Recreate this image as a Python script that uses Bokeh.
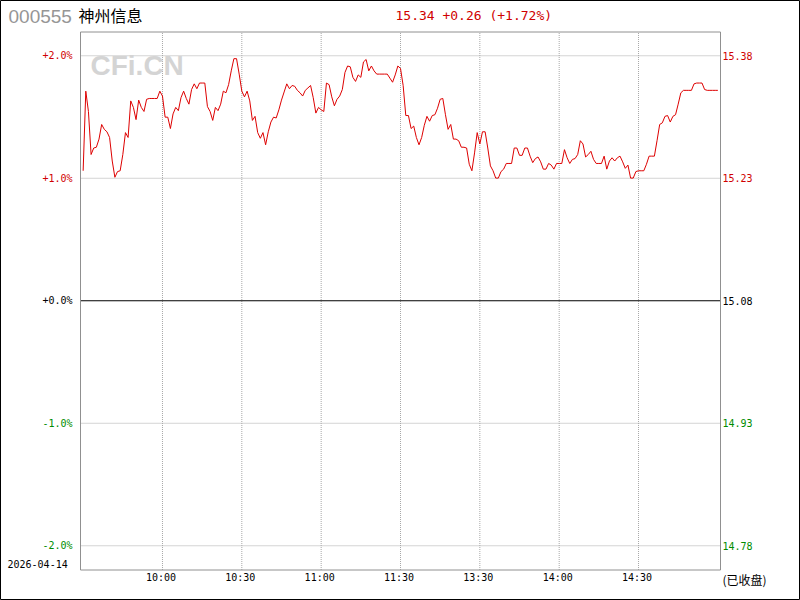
from bokeh.plotting import figure
from bokeh.models import Range1d, Label
from bokeh.embed import file_html
from bokeh.resources import INLINE

# ---------------- data ----------------
stock_code = "000555"
stock_name = "神州信息"
trade_date = "2026-04-14"
status_text = "(已收盘)"
prev_close = 15.08
last_price = 15.34

prices = [
    15.240, 15.338, 15.313, 15.260, 15.268, 15.269, 15.279, 15.297, 15.291, 15.288,
    15.281, 15.252, 15.232, 15.239, 15.240, 15.260, 15.287, 15.281, 15.326, 15.318,
    15.303, 15.327, 15.318, 15.313, 15.328, 15.329, 15.329, 15.329, 15.329, 15.338,
    15.332, 15.306, 15.306, 15.292, 15.310, 15.318, 15.314, 15.330, 15.338, 15.329,
    15.322, 15.340, 15.347, 15.341, 15.348, 15.348, 15.348, 15.319, 15.313, 15.302,
    15.318, 15.314, 15.322, 15.338, 15.336, 15.346, 15.363, 15.378, 15.378, 15.359,
    15.338, 15.331, 15.338, 15.326, 15.302, 15.307, 15.287, 15.280, 15.287, 15.272,
    15.288, 15.300, 15.306, 15.305, 15.315, 15.327, 15.337, 15.347, 15.341, 15.345,
    15.344, 15.339, 15.336, 15.332, 15.339, 15.342, 15.345, 15.330, 15.311, 15.318,
    15.315, 15.313, 15.348, 15.346, 15.331, 15.320, 15.328, 15.332, 15.340, 15.361,
    15.369, 15.368, 15.355, 15.350, 15.358, 15.355, 15.374, 15.377, 15.363, 15.369,
    15.363, 15.359, 15.359, 15.359, 15.359, 15.359, 15.354, 15.349, 15.358, 15.369,
    15.366, 15.345, 15.308, 15.308, 15.292, 15.295, 15.281, 15.272, 15.281, 15.296,
    15.307, 15.301, 15.308, 15.309, 15.317, 15.328, 15.329, 15.309, 15.291, 15.297,
    15.279, 15.279, 15.277, 15.269, 15.269, 15.268, 15.248, 15.240, 15.262, 15.287,
    15.273, 15.288, 15.288, 15.268, 15.246, 15.240, 15.231, 15.231, 15.239, 15.242,
    15.249, 15.249, 15.249, 15.268, 15.268, 15.259, 15.259, 15.268, 15.268, 15.258,
    15.250, 15.255, 15.257, 15.251, 15.242, 15.242, 15.249, 15.247, 15.242, 15.249,
    15.249, 15.249, 15.266, 15.256, 15.249, 15.254, 15.255, 15.260, 15.277, 15.273,
    15.257, 15.260, 15.264, 15.254, 15.249, 15.249, 15.249, 15.258, 15.242, 15.252,
    15.256, 15.252, 15.256, 15.258, 15.251, 15.243, 15.247, 15.231, 15.231, 15.239,
    15.240, 15.240, 15.240, 15.248, 15.258, 15.258, 15.258, 15.277, 15.297, 15.299,
    15.307, 15.308, 15.300, 15.307, 15.309, 15.322, 15.336, 15.339, 15.339, 15.339,
    15.339, 15.347, 15.348, 15.348, 15.348, 15.340, 15.339, 15.339, 15.339, 15.339,
    15.339,
]
minutes = list(range(len(prices)))

time_ticks = [30, 60, 90, 120, 150, 180, 210]
time_labels = ["10:00", "10:30", "11:00", "11:30", "13:30", "14:00", "14:30"]
pct_ticks = [2.0, 1.0, 0.0, -1.0, -2.0]
pct_labels = ["+2.0%", "+1.0%", "+0.0%", "-1.0%", "-2.0%"]
price_labels = ["15.38", "15.23", "15.08", "14.93", "14.78"]

# ---------------- layout (canvas pixel -> data mapping) ----------------
W, H = 800, 600
PL, PR, PT, PB = 80, 720, 31.5, 569.5     # plot box in canvas pixels
X0, X1 = -1, 241                           # index range across the plot box
ux = (X1 - X0) / (PR - PL)                 # index units per pixel
PX_PER_PCT = 122.5
k = prev_close * 0.01 / PX_PER_PCT         # price per pixel
zero_py = 300.25
y_top = prev_close + zero_py * k
y_bot = prev_close - (H - zero_py) * k
x_left = X0 - PL * ux
x_right = X1 + (W - PR) * ux

def xd(px):
    return x_left + px * ux

def yd(py):
    return y_top - py * k

RED = "#d00000"
GREEN = "#008c00"
GRID = "#a8a8a8"
MONO = "DejaVu Sans Mono"

p = figure(width=W, height=H, output_backend="svg", toolbar_location=None,
           x_range=Range1d(x_left, x_right), y_range=Range1d(y_bot, y_top),
           x_axis_type=None, y_axis_type=None,
           min_border=0, min_border_left=0, min_border_right=0,
           min_border_top=0, min_border_bottom=0,
           background_fill_color="white", border_fill_color="white")
p.outline_line_color = "black"
p.outline_line_width = 1

# grid
grid_prices = [prev_close * (1 + t / 100) for t in pct_ticks if t != 0]
p.segment(x0=time_ticks, x1=time_ticks, y0=[yd(PB)] * len(time_ticks),
          y1=[yd(PT)] * len(time_ticks), line_color=GRID, line_dash="1 1", line_width=1)
p.segment(x0=[X0] * len(grid_prices), x1=[X1] * len(grid_prices), y0=grid_prices,
          y1=grid_prices, line_color=GRID, line_dash="1 1", line_width=1)
p.segment(x0=[X0], x1=[X1], y0=[prev_close], y1=[prev_close], line_color="black",
          line_width=1)
# plot box
p.quad(left=[X0], right=[X1], bottom=[yd(PB)], top=[yd(PT)], fill_color=None,
       line_color="#909090", line_width=1)

# watermark
p.add_layout(Label(x=xd(90), y=yd(65), text="CFi.CN", text_font="Liberation Sans",
                   text_font_style="bold", text_font_size="28px", text_color="#d4d4d4",
                   text_align="left", text_baseline="middle"))

p.line(minutes, prices, line_color="#dd0000", line_width=1)

def col(v):
    return RED if v > 0 else (GREEN if v < 0 else "black")

for t, lab, plab in zip(pct_ticks, pct_labels, price_labels):
    yv = prev_close * (1 + t / 100)
    p.add_layout(Label(x=xd(72), y=yv, text=lab, text_font=MONO,
                       text_font_size="10px", text_color=col(t),
                       text_align="right", text_baseline="middle"))
    p.add_layout(Label(x=xd(722), y=yv, text=plab, text_font=MONO,
                       text_font_size="10px", text_color=col(t),
                       text_align="left", text_baseline="middle"))

for t, lab in zip(time_ticks, time_labels):
    p.add_layout(Label(x=t, y=yd(577), x_offset=-1.5, text=lab,
                       text_font=MONO, text_font_size="10px",
                       text_color="black", text_align="center", text_baseline="middle"))

p.add_layout(Label(x=xd(7), y=yd(563), text=trade_date, text_font=MONO,
                   text_font_size="10px", text_color="black",
                   text_align="left", text_baseline="middle"))
p.add_layout(Label(x=xd(722), y=yd(579), text=status_text, text_font="Noto Sans CJK SC",
                   text_font_size="12px", text_color="black",
                   text_align="left", text_baseline="middle"))

# header
p.add_layout(Label(x=xd(8), y=yd(16), text=stock_code, text_font="Liberation Sans",
                   text_font_size="19px", text_color="#969696",
                   text_align="left", text_baseline="middle"))
p.add_layout(Label(x=xd(78), y=yd(14), text=stock_name, text_font="Noto Sans CJK SC",
                   text_font_size="16px", text_color="black",
                   text_align="left", text_baseline="middle"))
chg = last_price - prev_close
header = f"{last_price:.2f} {chg:+.2f} ({chg / prev_close * 100:+.2f}%)"
p.add_layout(Label(x=xd(395), y=yd(14.5), text=header, text_font=MONO,
                   text_font_size="13px", text_color=RED,
                   text_align="left", text_baseline="middle"))

open("out.html", "w").write(file_html(p, INLINE))
